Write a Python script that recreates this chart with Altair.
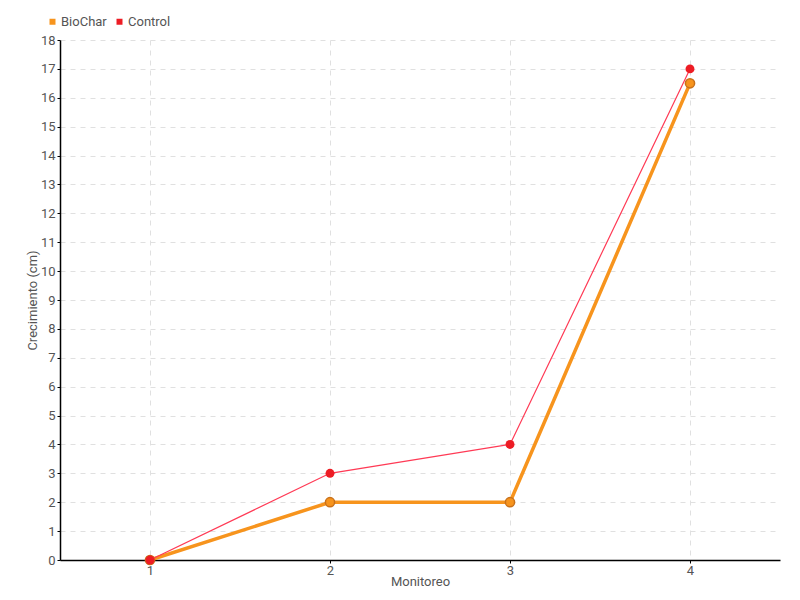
import altair as alt
import pandas as pd

monitoreo = [1, 2, 3, 4]
biochar = [0, 2, 2, 16.5]
control = [0, 3, 4, 17]
series = ["BioChar", "Control"]
colors = ["#f7941d", "#ed1c24"]

df = pd.DataFrame({
    "Monitoreo": monitoreo * 2,
    "Crecimiento": biochar + control,
    "Serie": ["BioChar"] * 4 + ["Control"] * 4,
})

FONT = "Roboto"

x = alt.X("Monitoreo:Q", title="Monitoreo",
          scale=alt.Scale(domain=[0.5, 4.5], nice=False, zero=False),
          axis=alt.Axis(values=monitoreo, format="d", titlePadding=-2, labelPadding=1))
y = alt.Y("Crecimiento:Q", title="Crecimiento (cm)",
          scale=alt.Scale(domain=[0, 18], nice=False),
          axis=alt.Axis(values=list(range(0, 19)), titleX=-21, titleY=260,
                        titleAngle=270, titleBaseline="bottom", labelPadding=2))
color = alt.Color("Serie:N", scale=alt.Scale(domain=series, range=colors),
                  legend=alt.Legend(title=None, orient="none", direction="horizontal",
                                    legendX=-14, legendY=-25, symbolType="square",
                                    symbolSize=36, columnPadding=6, symbolStrokeWidth=0,
                                    labelFontSize=13, labelFont=FONT, labelColor="#555",
                                    labelOffset=2))

bio = df[df.Serie == "BioChar"]
ctl = df[df.Serie == "Control"]

bio_line = alt.Chart(bio).mark_line(strokeWidth=3.5).encode(x=x, y=y, color=color)
bio_pts = alt.Chart(bio).mark_circle(size=85, opacity=1, stroke="#c8701a", strokeWidth=1.5).encode(x=x, y=y, color=color)
ctl_line = alt.Chart(ctl).mark_line(strokeWidth=1.2, color="#ff3a55").encode(x=x, y=y)
ctl_pts = alt.Chart(ctl).mark_circle(size=80, opacity=1).encode(x=x, y=y, color=color)

chart = alt.layer(bio_line, bio_pts, ctl_line, ctl_pts).properties(
    width=720, height=520,
    autosize=alt.AutoSizeParams(type="none"),
    padding={"left": 52, "top": 32, "right": 12, "bottom": 32},
).configure_view(stroke=None).configure_axis(
    labelFont=FONT, titleFont=FONT, labelFontSize=13, titleFontSize=13,
    labelColor="#555", titleColor="#555", titleFontWeight="normal",
    domainColor="#000", domainWidth=1.5, tickColor="#000", tickSize=3,
    gridColor="#e0e0e0", gridDash=[5, 5], gridWidth=1,
)

chart.save("out.html", embed_options={"renderer": "svg", "actions": False})
